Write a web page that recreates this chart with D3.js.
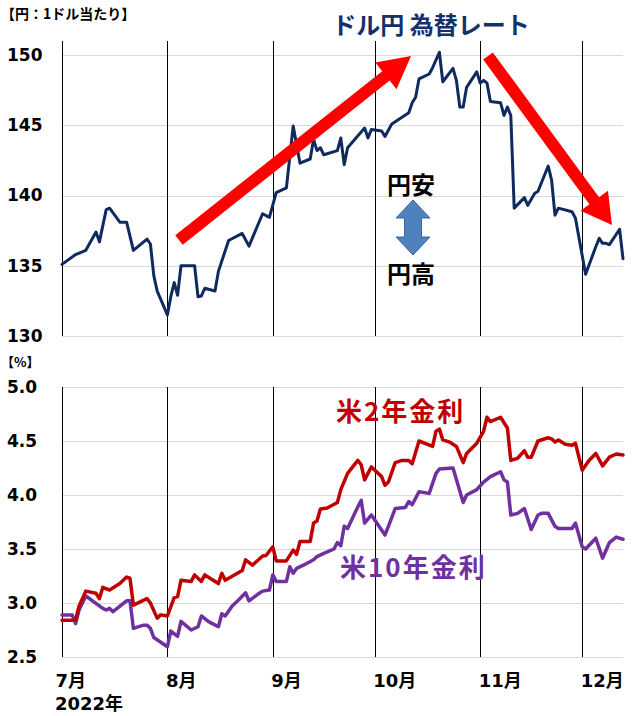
<!DOCTYPE html>
<html><head><meta charset="utf-8">
<script src="https://cdn.jsdelivr.net/npm/d3@7/dist/d3.min.js"></script>
<style>
html,body{margin:0;padding:0;background:#fff;}
svg{display:block;}
</style></head>
<body>
<svg id="c" width="633" height="716"></svg>
<script>
// ---- DATA ----
const fxDates = ["07-01","07-05","07-08","07-11","07-12","07-14","07-15","07-18","07-20","07-22","07-26","07-27","07-28","07-29",
"08-01","08-02","08-03","08-04","08-05","08-09","08-10","08-11","08-12","08-15","08-16","08-19","08-23","08-25","08-29","08-31",
"09-02","09-05","09-07","09-09","09-12","09-13","09-14","09-15","09-16","09-20","09-21","09-22","09-23","09-28","09-29","09-30",
"10-03","10-04","10-06","10-11","10-12","10-13","10-14","10-17","10-18","10-20","10-21","10-24","10-25","10-26","10-27","10-28","10-31",
"11-01","11-02","11-03","11-04","11-07","11-08","11-09","11-10","11-11","11-14","11-15","11-17","11-18","11-21","11-22","11-23","11-24","11-28","11-29",
"12-02","12-05","12-06","12-07","12-08","12-09","12-12","12-13"];
const fxValues = [135.1,135.8,136.1,137.4,136.7,139.0,139.1,138.1,138.1,136.1,136.9,136.55,134.3,133.2,
131.5,132.8,133.8,132.9,135.0,135.0,132.8,132.85,133.4,133.2,134.6,136.8,137.3,136.4,138.7,138.45,
140.2,140.55,144.95,142.3,142.6,144.0,143.2,143.4,142.9,143.2,144.1,142.2,143.4,144.8,144.1,144.7,
144.6,144.2,145.1,145.9,146.6,147.0,148.3,148.65,149.1,150.2,148.1,149.05,148.2,146.3,146.3,147.7,148.8,
148.0,148.2,148.0,146.7,146.6,145.7,146.3,145.7,139.1,139.85,139.3,140.15,140.3,142.1,141.1,138.6,139.1,138.85,138.4,
134.4,136.35,136.95,136.6,136.6,136.5,137.6,135.5];

const us2yDates = ["07-01","07-05","07-06","07-08","07-11","07-12","07-13","07-15","07-18","07-20","07-21","07-22","07-26","07-27","07-29","07-30",
"08-01","08-03","08-04","08-05","08-08","08-09","08-11","08-12","08-16","08-17","08-18","08-23","08-24","08-26","08-29","08-30",
"09-01","09-02","09-05","09-07","09-08","09-09","09-12","09-13","09-14","09-15","09-17","09-20","09-21","09-23","09-26","09-27","09-28","09-30",
"10-03","10-04","10-05","10-07","10-09","10-11","10-12","10-14","10-18","10-19","10-20","10-21","10-23","10-25","10-27","10-28","10-31",
"11-02","11-03","11-04","11-07","11-09","11-10","11-12","11-14","11-15","11-16","11-18","11-21","11-22","11-23","11-24","11-26","11-28","11-29",
"12-01","12-03","12-05","12-07","12-09","12-11","12-13"];
const us2yValues = [2.84,2.84,2.97,3.11,3.09,3.04,3.145,3.12,3.18,3.24,3.23,2.98,3.04,3.00,2.86,2.89,
2.88,3.05,3.06,3.21,3.20,3.26,3.20,3.26,3.18,3.275,3.21,3.30,3.40,3.35,3.435,3.44,
3.52,3.39,3.39,3.49,3.45,3.57,3.57,3.74,3.76,3.87,3.88,3.93,4.05,4.20,4.32,4.28,4.14,4.26,
4.17,4.09,4.12,4.30,4.32,4.32,4.29,4.50,4.45,4.59,4.61,4.51,4.49,4.45,4.30,4.385,4.48,
4.59,4.72,4.68,4.72,4.62,4.32,4.34,4.41,4.35,4.35,4.50,4.53,4.52,4.49,4.51,4.47,4.46,4.48,
4.23,4.32,4.385,4.27,4.35,4.38,4.37];

const us10yDates = ["07-01","07-04","07-05","07-06","07-08","07-13","07-14","07-15","07-16","07-20","07-21","07-22","07-25","07-26","07-27","07-28",
"08-01","08-02","08-04","08-05","08-08","08-10","08-11","08-13","08-16","08-17","08-18","08-20","08-22","08-24","08-25","08-28","08-29","08-31",
"09-01","09-02","09-05","09-06","09-07","09-08","09-10","09-13","09-14","09-16","09-19","09-20","09-21","09-22","09-23","09-26","09-27","09-28","09-30",
"10-04","10-05","10-07","10-10","10-11","10-12","10-14","10-17","10-19","10-20","10-24","10-27","10-28","10-31",
"11-02","11-04","11-07","11-08","11-09","11-10","11-12","11-14","11-16","11-18","11-19","11-21","11-23","11-24","11-28","11-29",
"12-01","12-02","12-05","12-07","12-09","12-11","12-13"];
const us10yValues = [2.89,2.89,2.81,2.935,3.065,2.95,2.935,2.95,2.92,3.02,3.02,2.765,2.795,2.795,2.765,2.68,
2.595,2.74,2.69,2.83,2.75,2.78,2.88,2.83,2.78,2.90,2.88,2.97,3.03,3.095,3.02,3.09,3.11,3.12,
3.26,3.20,3.20,3.335,3.275,3.32,3.35,3.40,3.43,3.46,3.50,3.56,3.53,3.71,3.69,3.89,3.95,3.74,3.815,
3.63,3.71,3.875,3.885,3.94,3.91,4.03,4.015,4.20,4.24,4.25,3.93,4.00,4.05,
4.12,4.17,4.215,4.14,4.12,3.815,3.83,3.875,3.68,3.815,3.83,3.83,3.71,3.69,3.69,3.74,
3.52,3.50,3.60,3.415,3.56,3.61,3.59];

const fxTicks = [130,135,140,145,150];
const rateTicks = [2.5,3.0,3.5,4.0,4.5,5.0];
const dateStart = "2022-07-01", dateEnd = "2022-12-13";

// ---- CHART ----
const parse = d3.timeParse("%Y-%m-%d");
const toDate = s => parse("2022-" + s);
const svg = d3.select("#c");
const L = 62, R = 623;
const x = d3.scaleTime().domain([parse(dateStart), parse(dateEnd)]).range([L, R]);
const yTop = d3.scaleLinear().domain([130, 151]).range([336, 41]);
const yBot = d3.scaleLinear().domain([2.5, 5.0]).range([657, 387]);
const numFont = "'DejaVu Sans', 'Noto Sans CJK JP', sans-serif";
const jpFont = "'Noto Sans CJK JP', 'DejaVu Sans', sans-serif";

function yAxis(scale, ticks, fmt) {
  const g = svg.append("g").attr("transform", `translate(${L},0)`)
    .call(d3.axisLeft(scale).tickValues(ticks).tickSize(-(R - L)).tickFormat(fmt));
  g.select(".domain").remove();
  g.selectAll(".tick line").attr("stroke", "#d9d9d9").attr("stroke-width", 1).attr("shape-rendering", "crispEdges");
  g.selectAll(".tick text").attr("x", 7 - L).attr("text-anchor", "start")
    .attr("font-family", numFont).attr("font-weight", "bold").attr("font-size", 17).attr("fill", "#000");
  return g;
}
yAxis(yTop, fxTicks, d3.format("d"));
yAxis(yBot, rateTicks, d3.format(".1f"));

const months = d3.timeMonth.every(1);
const gt = svg.append("g").attr("transform", `translate(0,${yTop(130)})`)
  .call(d3.axisBottom(x).ticks(months).tickSize(-(yTop(130) - yTop(151))).tickFormat(""));
gt.select(".domain").remove();
gt.selectAll(".tick line").attr("stroke", "#000").attr("stroke-width", 1).attr("shape-rendering", "crispEdges");

const gb = svg.append("g").attr("transform", `translate(0,${yBot(2.5)})`)
  .call(d3.axisBottom(x).ticks(months).tickSize(-(yBot(2.5) - yBot(5.0)))
    .tickFormat(d => (d.getMonth() + 1) + "月"));
gb.select(".domain").remove();
gb.selectAll(".tick line").attr("stroke", "#000").attr("stroke-width", 1).attr("shape-rendering", "crispEdges");
gb.selectAll(".tick text").attr("text-anchor", "start").attr("x", -2).attr("y", 30).attr("dy", 0)
  .attr("font-family", numFont).attr("font-weight", "bold").attr("font-size", 18).attr("fill", "#000");
gb.selectAll(".tick").filter((d, i) => i === 0).select("text").attr("x", -7);

svg.append("text").attr("x", 55).attr("y", 710).attr("font-family", numFont).attr("font-weight", "bold")
  .attr("font-size", 18).text("2022年");

function series(dates, values, yS, color, w) {
  const data = dates.map((d, i) => ({ d: toDate(d), v: values[i] }));
  svg.append("path").datum(data)
    .attr("d", d3.line().x(p => x(p.d)).y(p => yS(p.v)))
    .attr("fill", "none").attr("stroke", color).attr("stroke-width", w)
    .attr("stroke-linejoin", "round").attr("stroke-linecap", "round");
}
series(fxDates, fxValues, yTop, "#0f2a5e", 3);
series(us10yDates, us10yValues, yBot, "#7030a0", 3.5);
series(us2yDates, us2yValues, yBot, "#c00000", 3.5);

function arrow(x1, y1, x2, y2, sw, hw, hl, color) {
  const dx = x2 - x1, dy = y2 - y1, len = Math.hypot(dx, dy);
  const ux = dx / len, uy = dy / len, px = -uy, py = ux;
  const bx = x2 - ux * hl, by = y2 - uy * hl;
  const pts = [
    [x1 + px * sw / 2, y1 + py * sw / 2],
    [bx + px * sw / 2, by + py * sw / 2],
    [bx + px * hw / 2, by + py * hw / 2],
    [x2, y2],
    [bx - px * hw / 2, by - py * hw / 2],
    [bx - px * sw / 2, by - py * sw / 2],
    [x1 - px * sw / 2, y1 - py * sw / 2]
  ];
  svg.append("path").attr("d", "M" + pts.map(p => p.join(",")).join("L") + "Z").attr("fill", color);
}
arrow(179, 240, 411, 56, 12, 34, 32, "#ff0000");
arrow(488, 56, 612, 225, 12, 34, 30, "#ff0000");

const cx = 413, t = 200, b = 255, hh = 17, hl2 = 18, sh = 8.5;
svg.append("path").attr("d",
  `M${cx},${t}L${cx + hh},${t + hl2}L${cx + sh},${t + hl2}L${cx + sh},${b - hl2}L${cx + hh},${b - hl2}L${cx},${b}` +
  `L${cx - hh},${b - hl2}L${cx - sh},${b - hl2}L${cx - sh},${t + hl2}L${cx - hh},${t + hl2}Z`)
  .attr("fill", "#4f81bd").attr("stroke", "#3a679c").attr("stroke-width", 1);

svg.append("text").attr("x", 431).attr("y", 34).attr("text-anchor", "middle").attr("font-family", jpFont)
  .attr("font-weight", "bold").attr("font-size", 24).attr("fill", "#14306a").text("ドル円 為替レート");
svg.append("text").attr("x", 1).attr("y", 19).attr("font-family", jpFont).attr("font-weight", "bold")
  .attr("font-size", 14).text("【円：1ドル当たり】");
svg.append("text").attr("x", 1).attr("y", 367).attr("font-family", jpFont).attr("font-weight", "bold")
  .attr("font-size", 13).text("【%】");
svg.append("text").attr("x", 387).attr("y", 194).attr("font-family", jpFont).attr("font-weight", "bold")
  .attr("font-size", 24).text("円安");
svg.append("text").attr("x", 387).attr("y", 283).attr("font-family", jpFont).attr("font-weight", "bold")
  .attr("font-size", 24).text("円高");
svg.append("text").attr("x", 336).attr("y", 421).attr("font-family", jpFont).attr("font-weight", "bold")
  .attr("font-size", 26).attr("letter-spacing", 2).attr("fill", "#c00000").text("米2年金利");
svg.append("text").attr("x", 340).attr("y", 577).attr("font-family", jpFont).attr("font-weight", "bold")
  .attr("font-size", 26).attr("letter-spacing", 2).attr("fill", "#7030a0").text("米10年金利");
</script>
</body></html>
